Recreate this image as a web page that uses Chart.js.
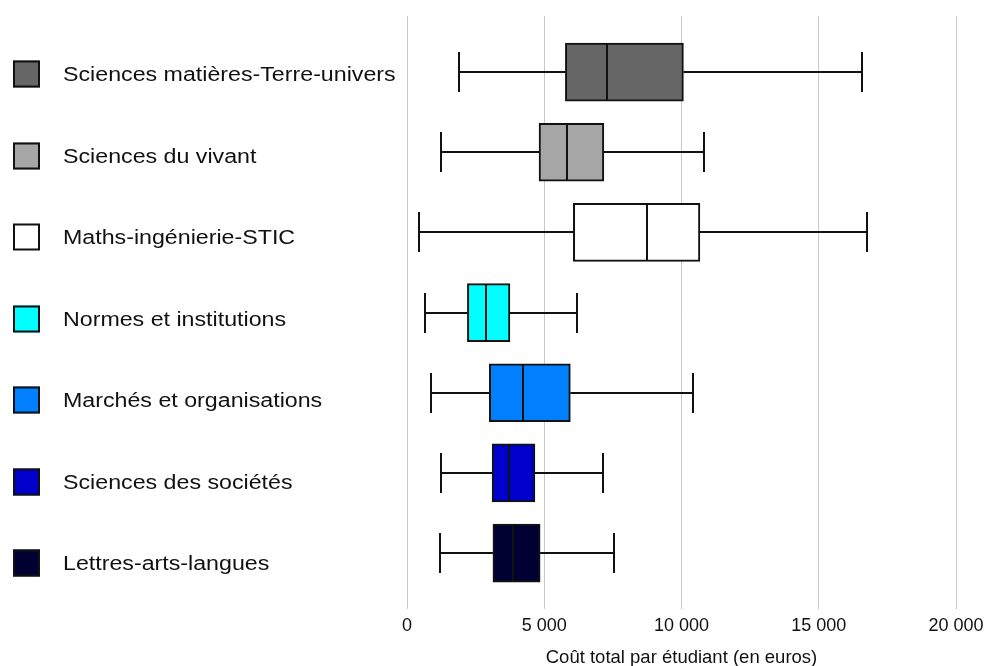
<!DOCTYPE html>
<html>
<head>
<meta charset="utf-8">
<script src="https://cdn.jsdelivr.net/npm/chart.js@4/dist/chart.umd.min.js"></script>
<style>
  html, body { margin: 0; padding: 0; background: #fff; }
  #wrap { width: 986px; height: 666px; position: relative; }
</style>
</head>
<body>
<div id="wrap"><canvas id="c"></canvas></div>
<script>
const categories = [
  "Sciences matières-Terre-univers",
  "Sciences du vivant",
  "Maths-ingénierie-STIC",
  "Normes et institutions",
  "Marchés et organisations",
  "Sciences des sociétés",
  "Lettres-arts-langues"
];
const whiskerLow  = [1880, 1240, 430, 670, 870, 1240, 1210];
const q1          = [5770, 4810, 6060, 2200, 3000, 3100, 3130];
const median      = [7270, 5820, 8730, 2880, 4210, 3730, 3860];
const q3          = [10070, 7170, 10670, 3750, 5950, 4660, 4850];
const whiskerHigh = [16590, 10810, 16770, 6190, 10420, 7130, 7530];
const boxColors   = ["#666666", "#a6a6a6", "#ffffff", "#00ffff", "#0080ff", "#0000cc", "#000033"];
const xTickValues = [0, 5000, 10000, 15000, 20000];
const axisTitle   = "Coût total par étudiant (en euros)";

const FONT = "'Liberation Sans', Arial, sans-serif";

const boxData = categories.map((c, i) => ({ x: [q1[i], q3[i]], y: i }));

const boxPlugin = {
  id: 'boxParts',
  beforeDatasetsDraw(chart) {
    const xs = chart.scales.x, ys = chart.scales.y, ctx = chart.ctx;
    ctx.save();
    ctx.strokeStyle = '#111';
    ctx.lineWidth = 2;
    categories.forEach((c, i) => {
      const y = Math.round(ys.getPixelForValue(i));
      const xl = Math.round(xs.getPixelForValue(whiskerLow[i]));
      const x1 = xs.getPixelForValue(q1[i]);
      const x3 = xs.getPixelForValue(q3[i]);
      const xh = Math.round(xs.getPixelForValue(whiskerHigh[i]));
      ctx.beginPath();
      ctx.moveTo(xl, y); ctx.lineTo(x1, y);
      ctx.moveTo(x3, y); ctx.lineTo(xh, y);
      ctx.moveTo(xl, y - 20); ctx.lineTo(xl, y + 20);
      ctx.moveTo(xh, y - 20); ctx.lineTo(xh, y + 20);
      ctx.stroke();
    });
    ctx.restore();
  },
  afterDatasetsDraw(chart) {
    const xs = chart.scales.x, ys = chart.scales.y, ctx = chart.ctx;
    ctx.save();
    ctx.strokeStyle = '#111';
    ctx.lineWidth = 2;
    categories.forEach((c, i) => {
      const y = ys.getPixelForValue(i);
      const xm = Math.round(xs.getPixelForValue(median[i]));
      ctx.beginPath();
      ctx.moveTo(xm, y - 28); ctx.lineTo(xm, y + 28);
      ctx.stroke();
    });
    ctx.restore();
  },
  afterDraw(chart) {
    const ctx = chart.ctx;
    const top = chart.chartArea.top;
    ctx.save();
    categories.forEach((c, i) => {
      const cy = Math.round(top + 58 + i * 81.5);
      ctx.fillStyle = boxColors[i];
      ctx.fillRect(13, cy - 13.5, 27, 27);
      ctx.strokeStyle = '#111';
      ctx.lineWidth = 2;
      ctx.strokeRect(14, cy - 12.5, 25, 25);
      ctx.save();
      ctx.translate(63, cy);
      ctx.scale(1.16, 1);
      ctx.fillStyle = '#111';
      ctx.font = "20px " + FONT;
      ctx.textBaseline = 'middle';
      ctx.textAlign = 'left';
      ctx.fillText(c, 0, 1);
      ctx.restore();
    });
    ctx.restore();
  }
};

new Chart(document.getElementById('c'), {
  type: 'bar',
  data: {
    datasets: [{
      data: boxData,
      backgroundColor: boxColors,
      borderColor: '#111',
      borderWidth: 2,
      borderSkipped: false,
      barThickness: 58,
      grouped: false
    }]
  },
  options: {
    indexAxis: 'y',
    responsive: true,
    maintainAspectRatio: false,
    animation: false,
    layout: { padding: { left: 407, right: 30, top: 16, bottom: -2.6 } },
    plugins: { legend: { display: false }, tooltip: { enabled: false } },
    scales: {
      y: {
        type: 'linear',
        min: -0.7,
        max: 6.7,
        offset: false,
        reverse: true,
        display: false
      },
      x: {
        type: 'linear',
        min: 0,
        max: 20000,
        afterBuildTicks(scale) { scale.ticks = xTickValues.map(v => ({ value: v })); },
        afterFit(scale) { scale.paddingLeft = 0; scale.paddingRight = 0; },
        border: { display: false },
        grid: { color: '#c8c8c8', lineWidth: 1, drawTicks: false },
        ticks: {
          padding: 6,
          color: '#111',
          font: { family: FONT, size: 18 },
          callback: v => String(v).replace(/\B(?=(\d{3})+(?!\d))/g, ' ')
        },
        title: {
          display: true,
          text: axisTitle,
          color: '#111',
          font: { family: FONT, size: 18.5 },
          padding: { top: 3.6, bottom: 0 }
        }
      }
    }
  },
  plugins: [boxPlugin]
});
</script>
</body>
</html>
